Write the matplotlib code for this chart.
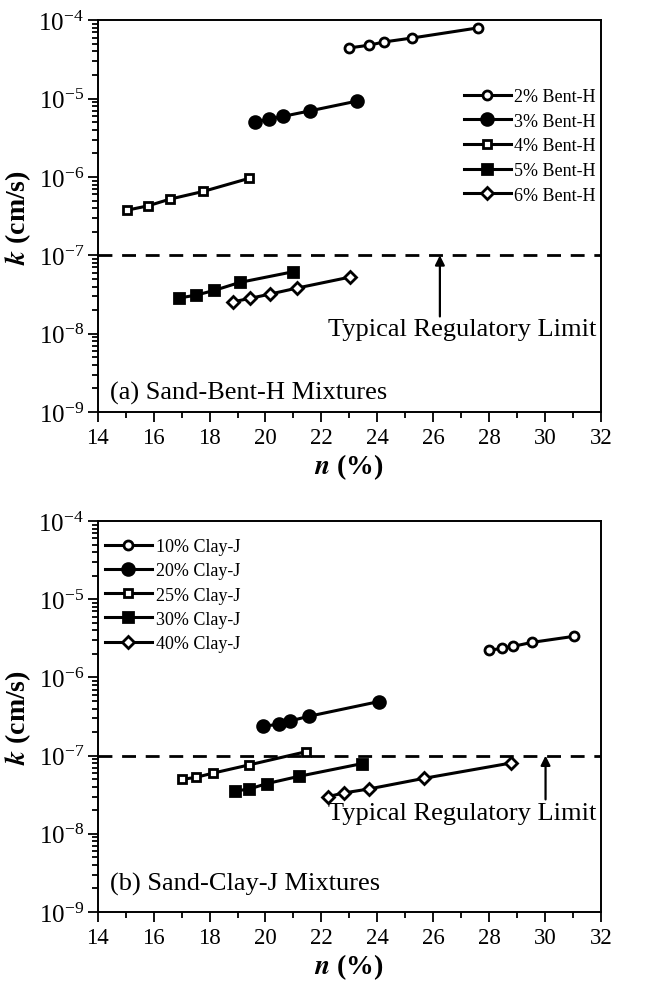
import numpy as np
import matplotlib
matplotlib.use("Agg")
import matplotlib.pyplot as plt
from matplotlib.ticker import FixedLocator, MultipleLocator, NullFormatter, LogFormatterMathtext

plt.rcParams['font.family'] = ['Liberation Serif', 'DejaVu Serif']
plt.rcParams['mathtext.fontset'] = 'stix'

# (a) Sand-Bent-H mixtures: porosity n (%) and hydraulic conductivity k (cm/s)
bent_labels = ['2% Bent-H', '3% Bent-H', '4% Bent-H', '5% Bent-H', '6% Bent-H']
bent_n = [
    [22.99, 23.71, 24.24, 25.26, 27.59],
    [19.62, 20.12, 20.61, 21.59, 23.26],
    [15.05, 15.80, 16.58, 17.77, 19.40],
    [16.90, 17.51, 18.16, 19.08, 20.97],
    [18.84, 19.44, 20.16, 21.13, 23.02],
]
bent_k = [
    [4.43e-5, 4.8e-5, 5.28e-5, 5.94e-5, 7.97e-5],
    [5.04e-6, 5.46e-6, 5.91e-6, 6.97e-6, 9.27e-6],
    [3.77e-7, 4.28e-7, 5.21e-7, 6.53e-7, 9.57e-7],
    [2.85e-8, 3.1e-8, 3.56e-8, 4.51e-8, 6.15e-8],
    [2.55e-8, 2.82e-8, 3.2e-8, 3.82e-8, 5.27e-8],
]

# (b) Sand-Clay-J mixtures
clay_labels = ['10% Clay-J', '20% Clay-J', '25% Clay-J', '30% Clay-J', '40% Clay-J']
clay_n = [
    [28.01, 28.45, 28.86, 29.53, 31.04],
    [19.92, 20.48, 20.87, 21.54, 24.05],
    [17.03, 17.51, 18.13, 19.40, 21.44],
    [18.90, 19.42, 20.04, 21.19, 23.46],
    [22.24, 22.80, 23.69, 25.68, 28.77],
]
clay_k = [
    [2.22e-6, 2.36e-6, 2.5e-6, 2.81e-6, 3.36e-6],
    [2.39e-7, 2.51e-7, 2.77e-7, 3.18e-7, 4.91e-7],
    [4.98e-8, 5.27e-8, 5.98e-8, 7.59e-8, 1.12e-7],
    [3.52e-8, 3.74e-8, 4.38e-8, 5.43e-8, 7.91e-8],
    [2.99e-8, 3.33e-8, 3.74e-8, 5.13e-8, 8.03e-8],
]

limit_k = 1e-7
decades = [1e-9, 1e-8, 1e-7, 1e-6, 1e-5, 1e-4]

# marker, face colour, size for each series
styles = [('o', 'white', 6.5), ('o', 'black', 8.5), ('s', 'white', 6),
          ('s', 'black', 7), ('D', 'white', 6.5)]

fig = plt.figure(figsize=(6.56, 9.87), dpi=100)
ax1 = fig.add_axes([0.149, 0.5815, 0.767, 0.397])
ax2 = fig.add_axes([0.149, 0.075, 0.767, 0.396])


def draw_panel(ax, ns, ks, labels, arrow_n, arrow_tail, text_k):
    for n, k, lab, (m, fc, ms) in zip(ns, ks, labels, styles):
        ax.plot(n, k, '-', color='black', lw=2.2, marker=m, mfc=fc, mec='black',
                ms=ms, mew=2, label=lab)
    ax.axhline(limit_k, color='black', lw=2, ls=(0, (5, 3.5)))
    ax.set_yscale('log')
    ax.set_xlim(14, 32)
    ax.set_ylim(1e-9, 1e-4)
    ax.xaxis.set_major_locator(MultipleLocator(2))
    ax.xaxis.set_minor_locator(MultipleLocator(1))
    ax.yaxis.set_major_locator(FixedLocator(decades))
    ax.yaxis.set_major_formatter(LogFormatterMathtext())
    minors = [d * s for d in decades[:-1] for s in range(2, 10)]
    ax.yaxis.set_minor_locator(FixedLocator(minors))
    ax.yaxis.set_minor_formatter(NullFormatter())
    ax.tick_params(which='both', direction='out', top=False, right=False, width=1.3)
    ax.tick_params(which='major', length=7)
    ax.tick_params(which='minor', length=4)
    ax.tick_params(axis='x', labelsize=16.5, pad=4)
    ax.tick_params(axis='y', labelsize=18, pad=3)
    for s in ax.spines.values():
        s.set_linewidth(1.4)
    ax.set_xlabel(r'$\mathbfit{n}$ (%)', fontsize=20, fontweight='bold', labelpad=2)
    ax.set_ylabel(r'$\mathbfit{k}$ (cm/s)', fontsize=20, fontweight='bold', labelpad=4)
    ax.annotate('', xy=(arrow_n, limit_k), xytext=(arrow_n, arrow_tail),
                arrowprops=dict(arrowstyle='-|>', color='black', lw=1.6,
                                mutation_scale=14, shrinkA=0, shrinkB=0))
    ax.text(31.85, text_k, 'Typical Regulatory Limit', fontsize=19,
            ha='right', va='center')


draw_panel(ax1, bent_n, bent_k, bent_labels, 26.24, 10**-7.78, 10**-7.94)
ax1.legend(loc='upper right', bbox_to_anchor=(1.004, 0.845), frameon=False,
           fontsize=13, handlelength=2.6, handletextpad=0.2, labelspacing=0.42,
           borderaxespad=0)
ax1.text(0.024, 0.051, '(a) Sand-Bent-H Mixtures', transform=ax1.transAxes,
         fontsize=19, ha='left', va='center')

draw_panel(ax2, clay_n, clay_k, clay_labels, 30.02, 10**-7.56, 10**-7.74)
ax2.legend(loc='upper left', bbox_to_anchor=(0.0, 0.975), frameon=False,
           fontsize=13, handlelength=2.6, handletextpad=0.2, labelspacing=0.4,
           borderaxespad=0)
ax2.text(0.024, 0.072, '(b) Sand-Clay-J Mixtures', transform=ax2.transAxes,
         fontsize=19, ha='left', va='center')

fig.savefig('out.png', dpi=100)
